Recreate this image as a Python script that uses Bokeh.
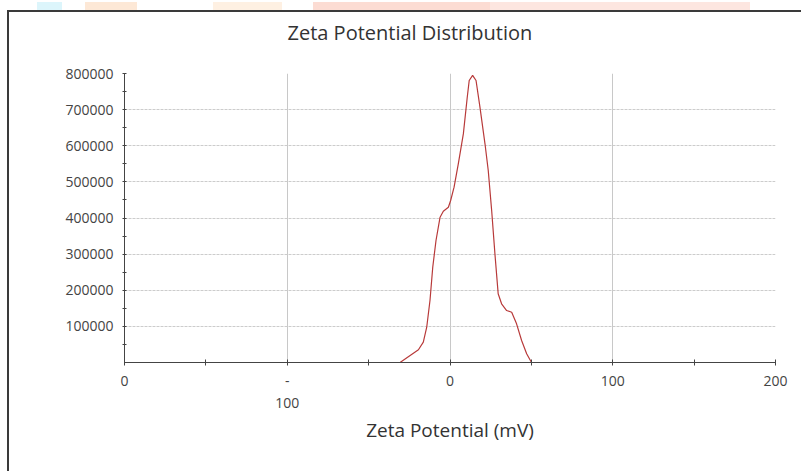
from bokeh.plotting import figure
from bokeh.models import Range1d, FixedTicker, ColumnDataSource, Div
from bokeh.layouts import column
from bokeh.embed import file_html
from bokeh.resources import INLINE

# Data
zeta_mv = [-135, -30.7, -24.5, -19.4, -16.4, -14.3, -12.3, -10.6, -8.6, -6.1, -4.1, -1.0,
           0.4, 2.5, 5.1, 8.2, 10.6, 11.8, 13.9, 16.0, 18.4, 21.5, 23.5, 25.6, 27.6,
           29.6, 31.7, 34.8, 37.9, 40.9, 44.0, 47.1, 50.1, 162]
counts = [0, 0, 19400, 35200, 56200, 97700, 171600, 263800, 337700, 402200, 418800, 429900,
          448400, 485200, 550000, 632800, 734400, 780600, 795000, 780600, 706700, 605400,
          531500, 420700, 300900, 190200, 162500, 143900, 139200, 107100, 60900, 24100, 0, 0]

x_ticks = [-200, -100, 0, 100, 200]
x_tick_labels = ["0", "-\n100", "0", "100", "200"]
x_minor = [-150, -50, 50, 150]
y_ticks = [100000, 200000, 300000, 400000, 500000, 600000, 700000, 800000]
y_minor = [50000, 150000, 250000, 350000, 450000, 550000, 650000, 750000]
title_text = "Zeta Potential Distribution"
x_label_text = "Zeta Potential (mV)"

FONT = "Open Sans"

p = figure(width=794, height=461, output_backend="svg", toolbar_location=None,
           x_range=Range1d(-200, 200), y_range=Range1d(0, 800000),
           min_border_left=115, min_border_right=28, min_border_top=61, min_border_bottom=111,
           margin=(0, 0, 0, 7),
           styles={"border-left": "2px solid #3a3a3a", "border-top": "2px solid #3a3a3a"})

p.outline_line_color = None
p.background_fill_color = "white"
p.border_fill_color = "white"

# trailing empty line lifts the title higher above the frame
p.title.text = title_text + "\n"
p.title.align = "left"
p.title.offset = 163
p.title.standoff = 2
p.title.text_font = FONT
p.title.text_font_size = "20px"
p.title.text_font_style = "normal"
p.title.text_color = "#333333"

src = ColumnDataSource(dict(x=zeta_mv, y=counts))
p.line("x", "y", source=src, line_color="#b83a3a", line_width=1.2)

# x axis
xa = p.xaxis[0]
xa.ticker = FixedTicker(ticks=x_ticks, minor_ticks=x_minor)
xa.major_label_overrides = {t: l for t, l in zip(x_ticks, x_tick_labels)}
xa.axis_label = x_label_text
xa.axis_label_text_font = FONT
xa.axis_label_text_font_size = "19px"
xa.axis_label_text_font_style = "normal"
xa.axis_label_text_color = "#333333"
xa.axis_label_standoff = 2
xa.major_label_text_font = FONT
xa.major_label_text_font_size = "14px"
xa.major_label_text_color = "#444444"
xa.major_label_standoff = 5
xa.axis_line_color = "#444444"
xa.major_tick_line_color = "#444444"
xa.minor_tick_line_color = "#444444"
xa.major_tick_in = 3
xa.major_tick_out = 3
xa.minor_tick_in = 3
xa.minor_tick_out = 3

# y axis
ya = p.yaxis[0]
ya.ticker = FixedTicker(ticks=y_ticks, minor_ticks=y_minor)
ya.major_label_overrides = {t: str(t) for t in y_ticks}
ya.major_label_text_font = FONT
ya.major_label_text_font_size = "14px"
ya.major_label_text_color = "#444444"
ya.major_label_standoff = 9
ya.axis_line_color = "#444444"
ya.major_tick_line_color = "#444444"
ya.minor_tick_line_color = "#444444"
ya.major_tick_in = 2
ya.major_tick_out = 2
ya.minor_tick_in = 2
ya.minor_tick_out = 2

p.xgrid.ticker = FixedTicker(ticks=[-100, 0, 100, 200])
p.xgrid.grid_line_color = "#c8c8c8"
p.ygrid.ticker = FixedTicker(ticks=y_ticks)
p.ygrid.grid_line_color = "#cccccc"
p.ygrid.grid_line_dash = "3 1"

# faint decorative strip above the frame
blobs = [(37, 25, "#dcf5fb"), (85, 52, "#fde8d6"), (213, 69, "#fef0e2"), (313, 177, "#fcdcd3"),
         (490, 260, "#fde6e0")]
html = '<div style="position:relative;width:803px;height:10px;">' + "".join(
    f'<div style="position:absolute;left:{l}px;top:0;width:{w}px;height:10px;background:{c};"></div>'
    for l, w, c in blobs) + "</div>"
strip = Div(text=html, width=803, height=10, margin=0)

layout = column(strip, p, spacing=0)

open("out.html", "w").write(file_html(layout, INLINE))
